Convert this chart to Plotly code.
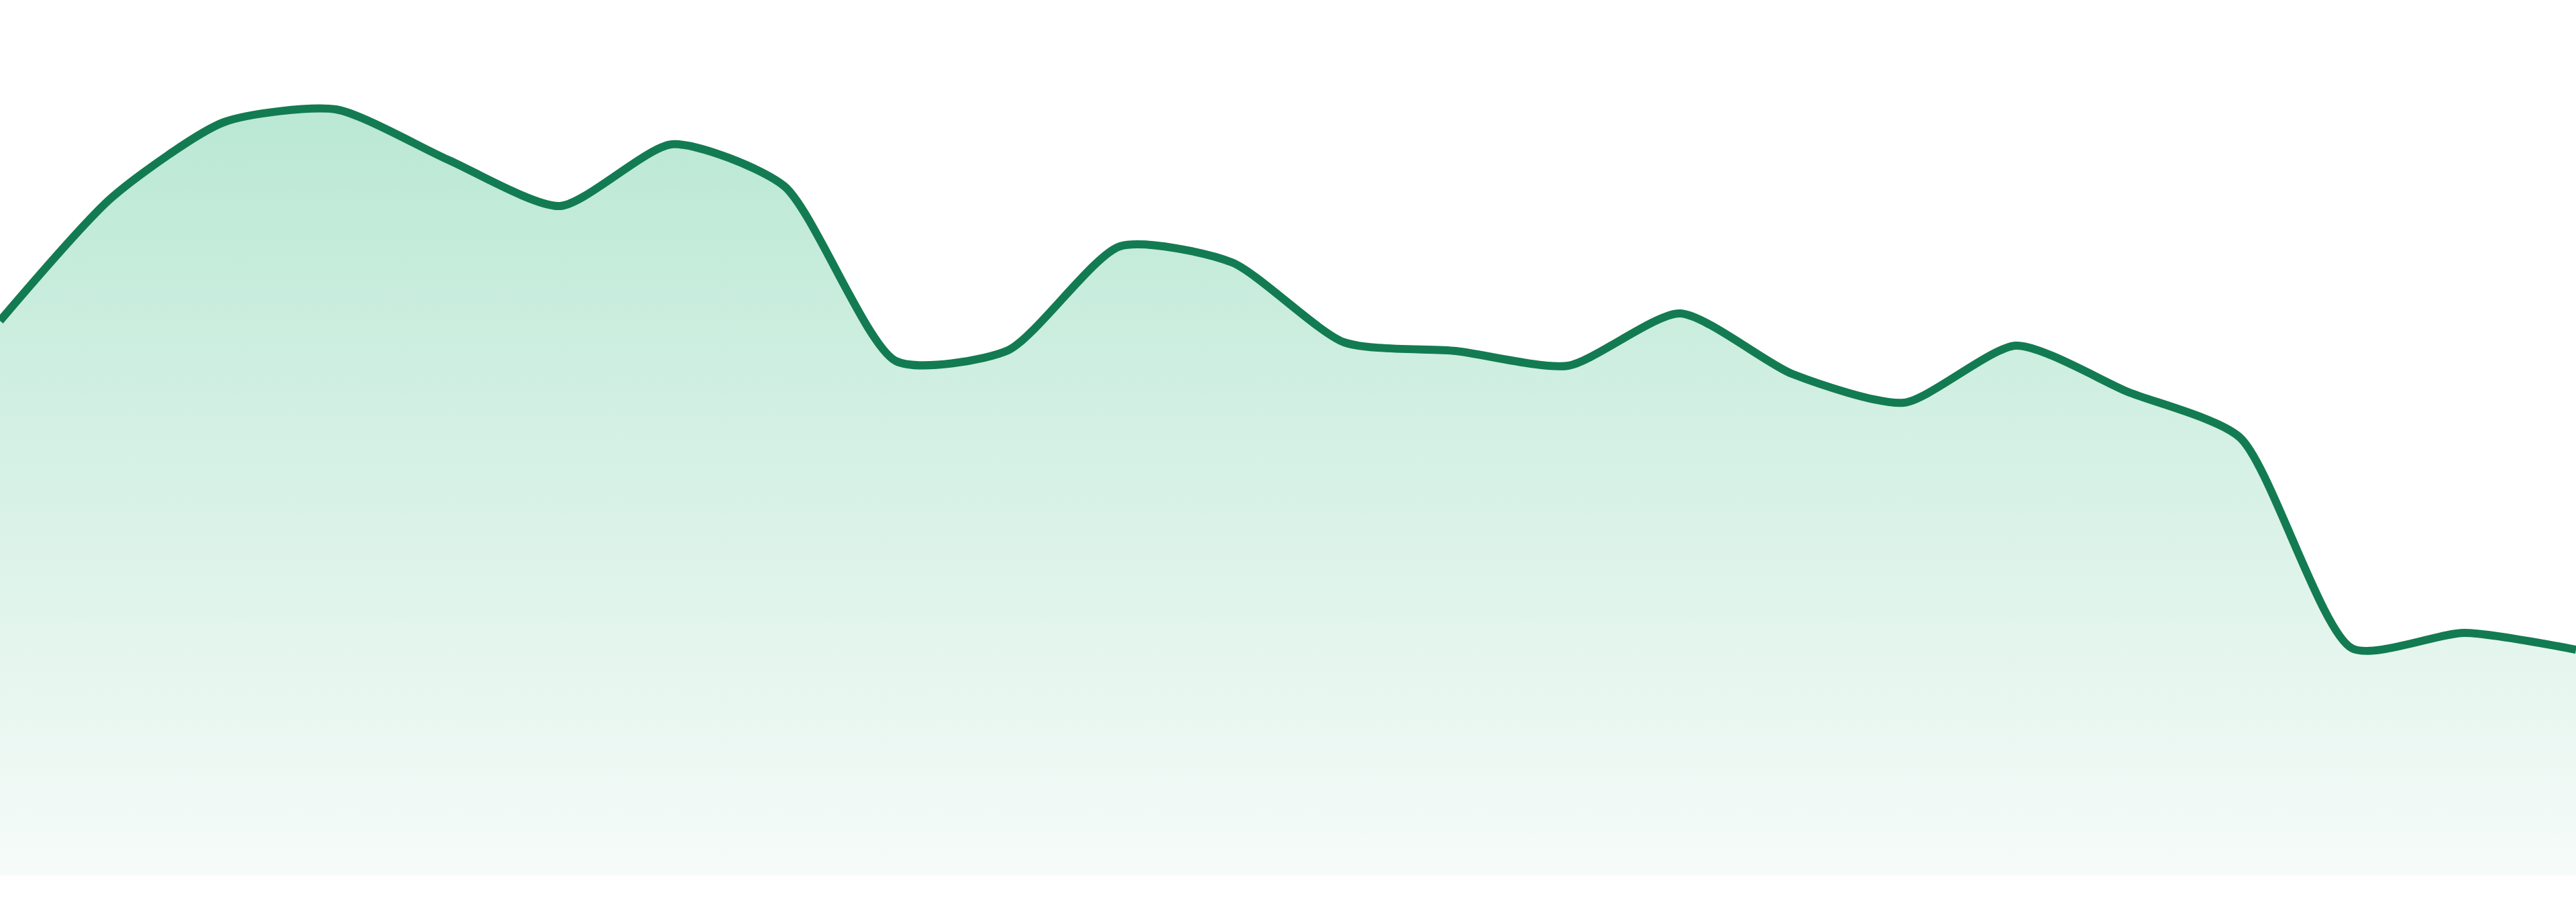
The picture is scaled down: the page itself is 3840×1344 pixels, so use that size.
import plotly.graph_objects as go

# 24 evenly spaced samples
steps = list(range(24))
values = [82.7, 101.1, 112.3, 114.2, 106.7, 99.8, 109.0, 102.8, 76.7, 78.3,
          93.8, 91.4, 79.5, 78.2, 76.0, 83.8, 74.8, 70.5, 79.0, 72.1,
          65.3, 33.9, 36.2, 33.7]

line_color = '#137b52'

fig = go.Figure()

# Smoothed line with a vertical gradient fill down to zero
fig.add_trace(go.Scatter(
    x=steps,
    y=values,
    mode='lines',
    line=dict(color=line_color, width=12, shape='spline', smoothing=0.65),
    fill='tozeroy',
    fillgradient=dict(
        type='vertical',
        start=0,
        stop=max(values),
        colorscale=[[0, 'rgb(246,251,249)'], [1, 'rgb(186,232,212)']],
    ),
    hoverinfo='skip',
    showlegend=False,
))

fig.update_layout(
    width=3840,
    height=1344,
    margin=dict(l=0, r=0, t=0, b=39),
    paper_bgcolor='white',
    plot_bgcolor='white',
    xaxis=dict(range=[0, 23], visible=False, fixedrange=True),
    yaxis=dict(range=[0, 130.5], visible=False, fixedrange=True),
)

fig.write_html("out.html", config={'displayModeBar': False},
               post_script="document.body.style.margin='0';")
